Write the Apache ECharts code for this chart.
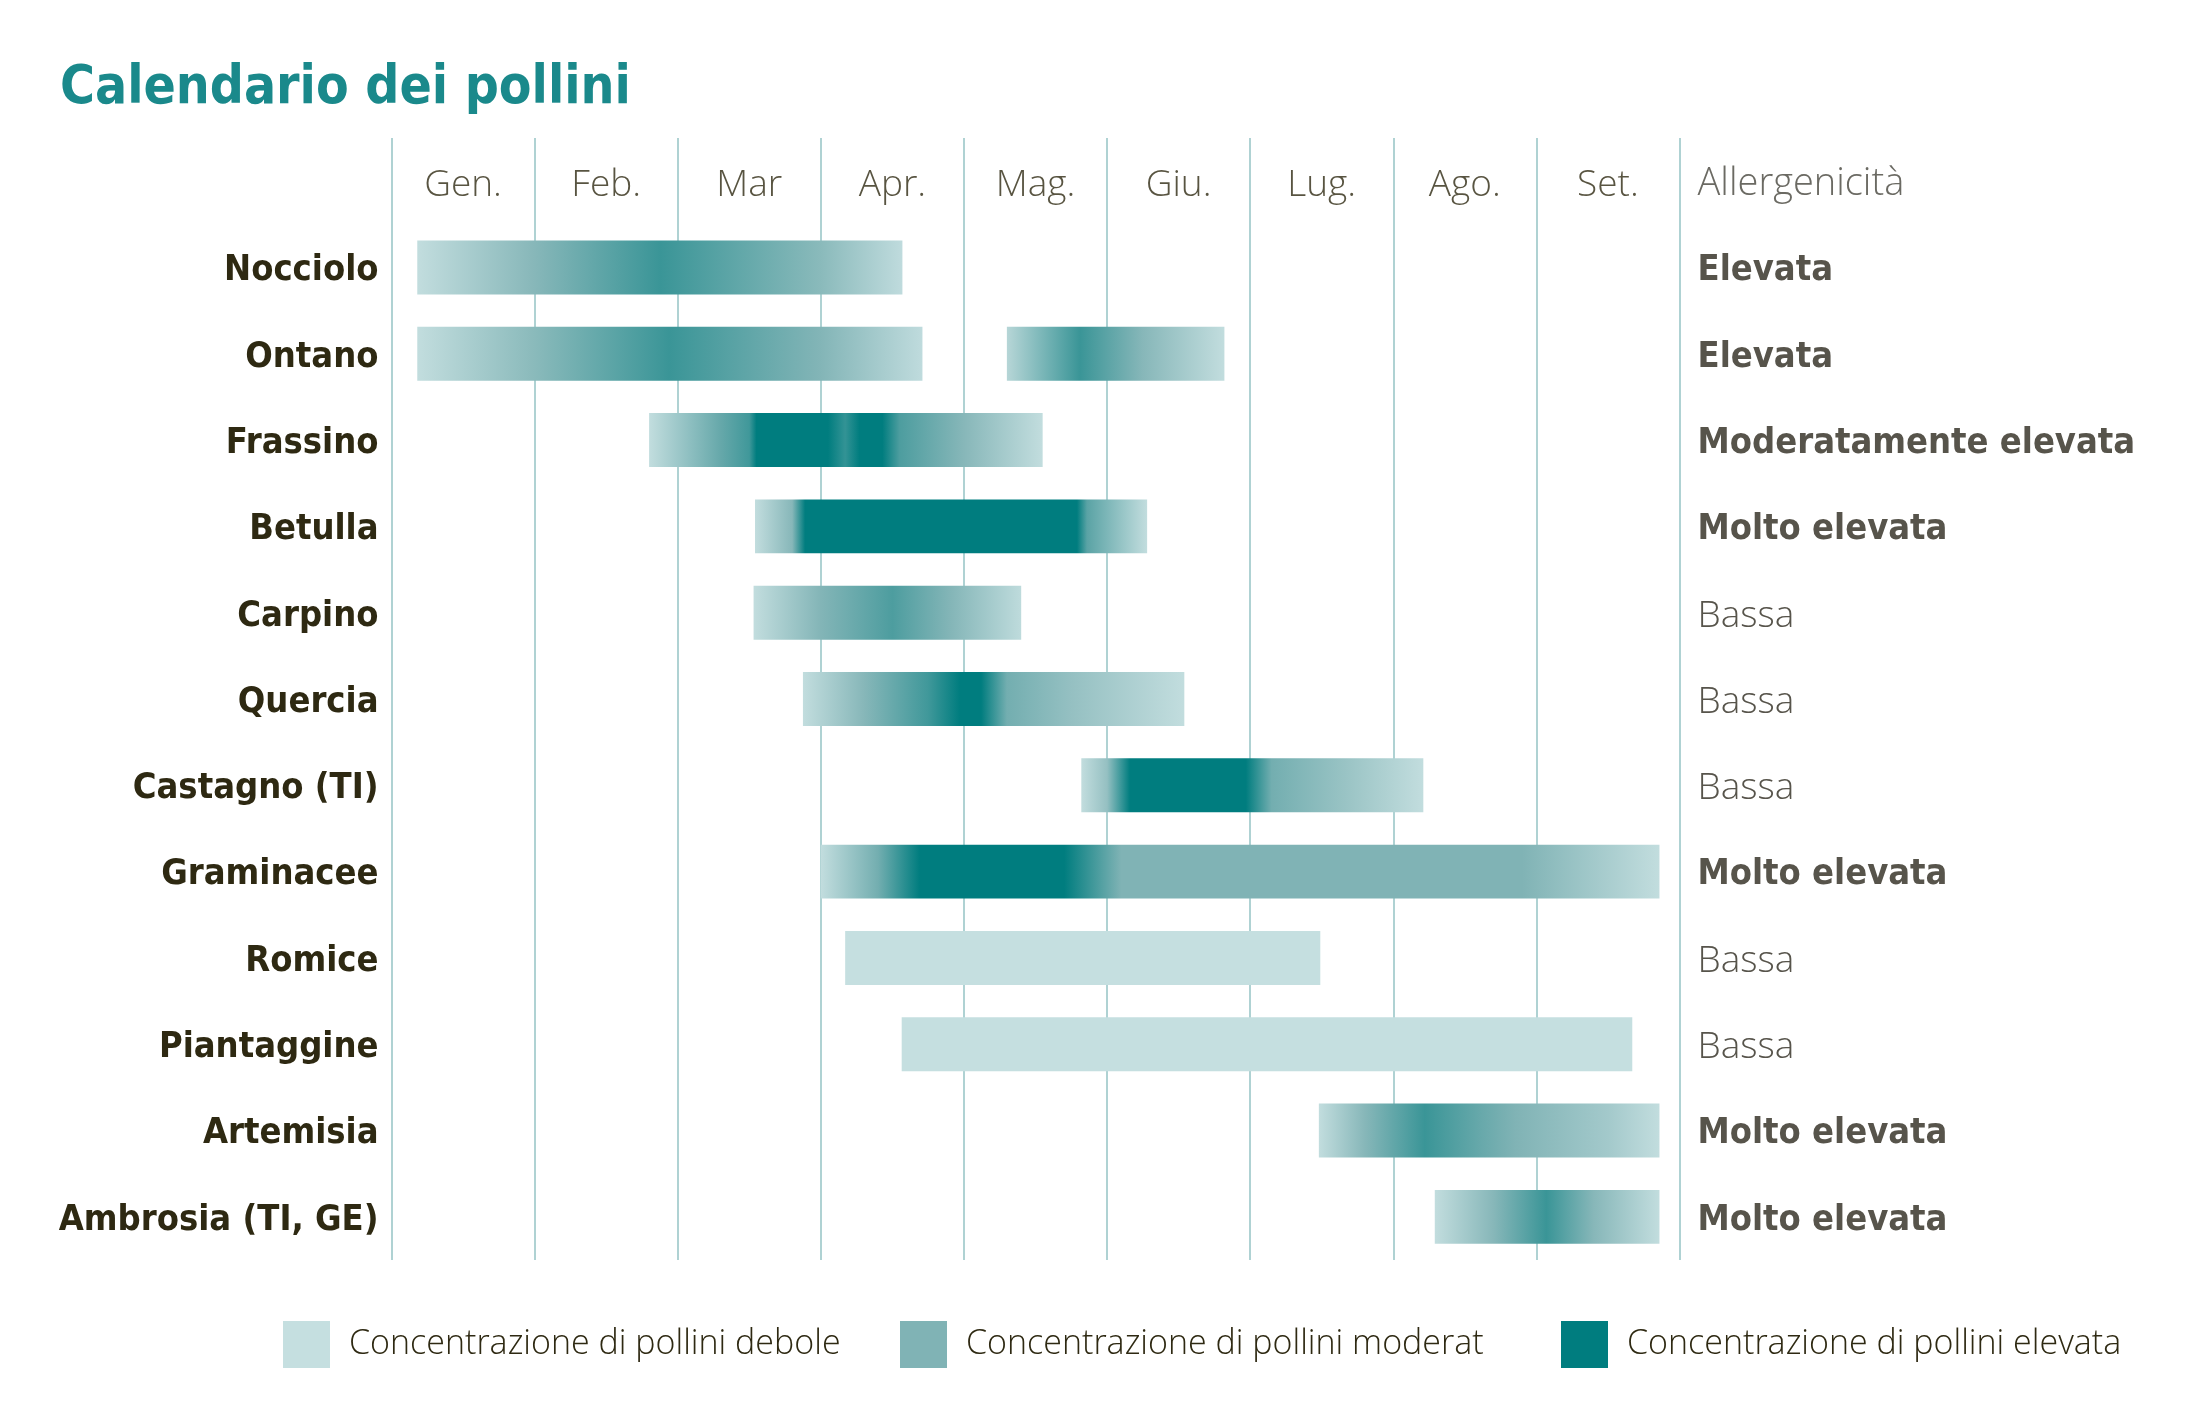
<!DOCTYPE html>
<html><head><meta charset="utf-8">
<script src="https://cdn.jsdelivr.net/npm/echarts@6/dist/echarts.min.js"></script>
<style>html,body{margin:0;padding:0;background:#fff}#c{width:2185px;height:1417px}</style>
</head><body><div id="c"></div>
<script>
// ---------- DATA ----------
const chartTitle = 'Calendario dei pollini';
const months = ['Gen.','Feb.','Mar','Apr.','Mag.','Giu.','Lug.','Ago.','Set.'];
const plants = ['Nocciolo','Ontano','Frassino','Betulla','Carpino','Quercia','Castagno (TI)','Graminacee','Romice','Piantaggine','Artemisia','Ambrosia (TI, GE)'];
const allergenicityHeader = 'Allergenicità';
const allergenicity = ['Elevata','Elevata','Moderatamente elevata','Molto elevata','Bassa','Bassa','Bassa','Molto elevata','Bassa','Bassa','Molto elevata','Molto elevata'];
const legendLabels = ['Concentrazione di pollini debole','Concentrazione di pollini moderat','Concentrazione di pollini elevata'];
// flowering segments: which plant each segment belongs to
const segPlant = [0,1,1,2,3,4,5,6,7,8,9,10,11];
// concentration profile of each segment: [month (0 = 1 Jan), level] ; level 0 = debole, 1 = moderata, 2 = elevata
const segProfile = [
  [[0.18,0.05],[1.0,0.9],[1.88,1.55],[3.0,0.85],[3.57,0.08]],
  [[0.18,0.05],[1.0,0.85],[1.94,1.55],[3.0,0.95],[3.71,0.08]],
  [[4.30,0.2],[4.81,1.55],[5.25,0.9],[5.82,0.05]],
  [[1.80,0.05],[2.3,1.2],[2.5,1.5],[2.55,2],[3.05,2],[3.17,1.6],[3.27,2],[3.43,2],[3.55,1.4],[4.0,0.9],[4.55,0.05]],
  [[2.54,0.05],[2.8,0.9],[2.89,2],[4.79,2],[4.86,1.3],[5.28,0.05]],
  [[2.53,0.05],[3.0,0.95],[3.5,1.4],[3.9,0.95],[4.40,0.1]],
  [[2.875,0.05],[3.3,0.9],[3.75,1.5],[3.97,2],[4.12,2],[4.3,1.1],[4.75,0.7],[5.54,0.05]],
  [[4.82,0.05],[5.0,0.7],[5.16,2],[5.97,2],[6.15,1.1],[6.7,0.6],[7.21,0.05]],
  [[3.0,0.05],[3.4,1.1],[3.69,2],[4.70,2],[5.1,1],[7.9,1],[8.86,0.05]],
  [[3.17,0],[6.49,0]],
  [[3.565,0],[8.67,0]],
  [[6.48,0.05],[6.8,0.9],[7.22,1.55],[7.6,1.2],[7.85,1.0],[8.5,0.5],[8.86,0.05]],
  [[7.29,0.05],[7.7,0.9],[8.07,1.55],[8.4,0.9],[8.86,0.05]]
];

// ---------- STYLE ----------
const levelColors = [[197,223,224],[128,179,181],[0,125,127]];
const legendColors = ['#c5dfe0','#80b3b5','#007d7f'];
function levelColor(l){
  l = Math.max(0, Math.min(2, l));
  const i = Math.min(1, Math.floor(l)), t = l - i;
  const a = levelColors[i], b = levelColors[i+1];
  return 'rgb(' + a.map((v,k)=>Math.round(v + (b[k]-v)*t)).join(',') + ')';
}
const boldFont = '"DejaVu Sans Condensed", "DejaVu Sans", sans-serif';
const lightFont = '"Open Sans", Lato, sans-serif';
const darkText = '#2e2912';
const greyText = '#57544b';

const yCats = [''].concat(plants);
const segData = segPlant.map((p,i)=>{
  const pr = segProfile[i];
  return [p+1, pr[0][0], pr[pr.length-1][0], i];
});

const chart = echarts.init(document.getElementById('c'), null, {renderer:'canvas'});
const legendLefts = [283, 900, 1561];
chart.setOption({
  backgroundColor:'#fff',
  animation:false,
  title:{text:chartTitle,left:60,top:63,padding:0,textStyle:{fontFamily:boldFont,fontWeight:'bold',fontSize:53,color:'#1a898b'}},
  grid:{left:391.5,right:505.5,top:138,bottom:157,containLabel:false},
  xAxis:{type:'value',min:0,max:months.length,interval:1,
    axisLine:{show:false},axisTick:{show:false},axisLabel:{show:false},
    splitLine:{show:true,lineStyle:{color:'#94c3c4',width:1.5}}},
  yAxis:[
    {type:'category',data:yCats,inverse:true,axisLine:{show:false},axisTick:{show:false},splitLine:{show:false},
     axisLabel:{margin:13,align:'right',padding:[7,0,0,0],
       formatter:(v)=> v ? '{n|'+v+'}' : '',
       rich:{n:{fontFamily:boldFont,fontWeight:'bold',fontSize:36,color:darkText}}}},
    {type:'category',data:yCats,inverse:true,position:'right',axisLine:{show:false},axisTick:{show:false},splitLine:{show:false},
     axisLabel:{margin:18,align:'left',padding:[7,0,0,0],
       formatter:(v,i)=> i===0 ? '{h|'+allergenicityHeader+'}' : (allergenicity[i-1]==='Bassa' ? '{l|'+allergenicity[i-1]+'}' : '{b|'+allergenicity[i-1]+'}'),
       rich:{
         h:{fontFamily:lightFont,fontWeight:300,fontSize:38,color:'#6b6a63'},
         l:{fontFamily:lightFont,fontWeight:300,fontSize:37,color:greyText},
         b:{fontFamily:boldFont,fontWeight:'bold',fontSize:36,color:greyText}
       }}}
  ],
  legend: legendLabels.map((n,i)=>({
    data:[n],left:legendLefts[i],top:1321,padding:0,itemWidth:47,itemHeight:47,icon:'rect',selectedMode:false,
    textStyle:{fontFamily:lightFont,fontWeight:300,fontSize:34,color:darkText,padding:[0,0,0,14]}
  })),
  series:[
    {type:'custom',name:'periods',xAxisIndex:0,yAxisIndex:0,encode:{x:[1,2],y:0},data:segData,
     renderItem:function(params, api){
       const yi = api.value(0), x0 = api.value(1), x1 = api.value(2);
       const s = api.coord([x0, yi]), e = api.coord([x1, yi]);
       const h = api.size([0,1])[1]*0.625;
       const prof = segProfile[api.value(3)];
       const stops = prof.map(([m,l])=>({offset:Math.max(0,Math.min(1,(m-x0)/(x1-x0))),color:levelColor(l)}));
       return {type:'rect',shape:{x:s[0],y:s[1]-h/2,width:e[0]-s[0],height:h},
         style:{fill:new echarts.graphic.LinearGradient(0,0,1,0,stops)}};
     }},
    {type:'scatter',name:'months',symbolSize:1,itemStyle:{color:'rgba(0,0,0,0)'},silent:true,
     data:months.map((m,i)=>[i+0.5,0]),
     label:{show:true,position:'inside',offset:[0,4],formatter:p=>months[p.dataIndex],fontFamily:lightFont,fontWeight:300,fontSize:37,color:darkText}},
    ...legendLabels.map((n,i)=>({type:'bar',name:n,data:[],itemStyle:{color:legendColors[i]}}))
  ]
});
</script>
</body></html>
